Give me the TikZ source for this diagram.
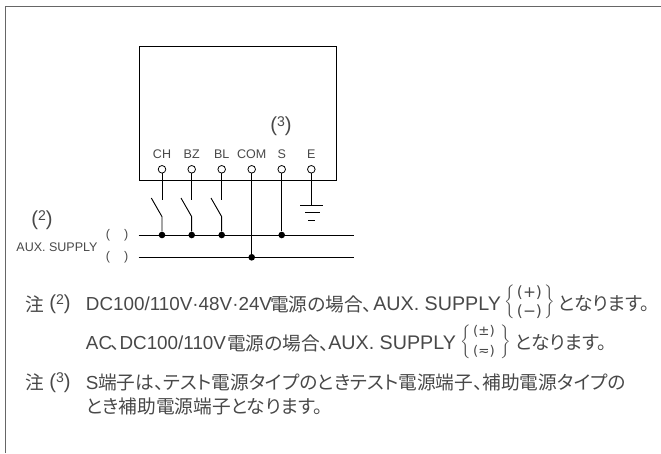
\documentclass[tikz,border=0pt]{standalone}
\usepackage{fontspec}
\usepackage{amsmath}
\setmainfont{Liberation Sans}
\newfontfamily\cjk[RawFeature=+palt]{Noto Sans CJK JP}
\newfontfamily\symfam{DejaVu Sans}
\usetikzlibrary{positioning}
\definecolor{inkgray}{HTML}{484848}
\newcommand{\bigtxt}{\fontsize{13.4}{15}\selectfont}
\newcommand{\auxtxt}{\fontsize{14}{15}\selectfont}
\newcommand{\jptxt}{\cjk\fontsize{13.3}{15}\selectfont}
\newcommand{\midtxt}{\fontsize{8.9}{10}\selectfont}
\newcommand{\refnum}[1]{\fontsize{14.4}{15}\selectfont(\raisebox{3.6pt}{\fontsize{10}{10}\selectfont #1})}
\tikzset{
	wire/.style={draw=black, line width=0.65pt},
	term/.style={circle, draw=black, fill=white, line width=0.55pt, inner sep=0pt, minimum size=5.4pt},
	dot/.style={circle, fill=black, inner sep=0pt, minimum size=4.7pt},
	tag/.style={text=inkgray, inner sep=0pt, font=\midtxt},
	note/.style={text=inkgray, inner sep=0pt, anchor=west, font=\bigtxt},
	jpnote/.style={note, font=\jptxt},
	brace/.style={text=inkgray, inner sep=0pt},
}
\begin{document}
\begin{tikzpicture}[x=0.025cm, y=-0.025cm]
	% Frame, page:
	\useasboundingbox (0, 0) rectangle (661, 453);
	\coordinate (FA) at (5.5, 453);
	\coordinate (FB) at (5.5, 6.5);
	\coordinate (FC) at (661, 6.5);
	\draw[draw=black!60, line width=0.9pt] (FA) -- (FB) -- (FC);
	% Unit and terminals:
	\node[wire, rectangle, minimum width=197*0.025cm, minimum height=133.5*0.025cm, anchor=north west, inner sep=0pt](UNIT) at (138.5, 46.5){};
	\foreach \name/\xpos in {CH/162, BZ/191.7, BL/221.7, COM/251.7, S/281.7, E/311.3}{
		\node[term](T\name) at (\xpos, 169.3){};
		\node[tag](L\name) at (\xpos, 154){\name};
	}
	% Supply lines:
	\coordinate (PA) at (138.5, 235);
	\coordinate (PB) at (354, 235);
	\coordinate (NA) at (138.5, 257.3);
	\coordinate (NB) at (354, 257.3);
	\draw[wire] (PA) -- (PB);
	\draw[wire] (NA) -- (NB);
	\node[dot](DCH) at (162, 235){};
	\node[dot](DBZ) at (191.7, 235){};
	\node[dot](DBL) at (221.7, 235){};
	\node[dot](DS) at (281.7, 235){};
	\node[dot](DCOM) at (251.7, 257.3){};
	\draw[wire] (TCOM) -- (DCOM);
	\draw[wire] (TS) -- (DS);
	% Switches:
	\foreach \name/\xpos in {CH/162, BZ/191.7, BL/221.7}{
		\coordinate (SA\name) at (\xpos, 200);
		\coordinate (SB\name) at (\xpos-10.7, 198);
		\coordinate (SC\name) at (\xpos, 216.7);
		\draw[wire] (T\name) -- (SA\name);
		\draw[wire] (SB\name) -- (SC\name) -- (D\name);
	}
	% Ground:
	\coordinate (GA) at (311.3, 205);
	\coordinate (GB) at (300, 205);
	\coordinate (GC) at (323, 205);
	\coordinate (GD) at (305, 212.7);
	\coordinate (GE) at (320, 212.7);
	\coordinate (GF) at (308, 220);
	\coordinate (GG) at (315, 220);
	\draw[wire] (TE) -- (GA);
	\draw[wire] (GB) -- (GC);
	\draw[wire] (GD) -- (GE);
	\draw[wire] (GF) -- (GG);
	% Labels:
	\node[tag](N3) at (281, 126.5){\refnum{3}};
	\node[tag](N2) at (42, 220.5){\refnum{2}};
	\node[tag](AUX) at (57, 246.7){AUX. SUPPLY};
	\node[tag](PP) at (117, 235.5){(\hspace{10pt})};
	\node[tag](PN) at (117, 257.5){(\hspace{10pt})};
	% Notes:
	\node[jpnote](NOA) at (25, 304){注};
	\node[note](NOAN) at (49, 304){\refnum{2}};
	\node[note](TXA) at (85.7, 304){DC100/110V·48V·24V};
	\node[jpnote](TXAJ) at (270, 304){電源の場合、};
	\node[note, font=\auxtxt](TXAS) at (373, 304){AUX. SUPPLY};
	\node[brace](BRAL) at (510, 301.5){$\bigg\{$};
	\node[tag, font=\symfam\fontsize{11}{12}\selectfont](BRAP) at (529.5, 292.7){(+)};
	\node[tag, font=\symfam\fontsize{11}{12}\selectfont](BRAM) at (529.5, 312){(−)};
	\node[brace](BRAR) at (549.5, 301.5){$\bigg\}$};
	\node[jpnote](TXB) at (558, 304){となります。};
	\node[note](TXC) at (85.7, 343){AC\kern-1.4pt{\jptxt 、}DC100/110V};
	\node[jpnote](TXCJ) at (227, 343){電源の場合、};
	\node[note, font=\auxtxt](TXCS) at (328, 343){AUX. SUPPLY};
	\node[brace](BRBL) at (466, 341.5){$\bigg\{$};
	\node[tag, font=\symfam\fontsize{9.5}{10}\selectfont](BRBP) at (484, 331.7){(±)};
	\node[tag, font=\symfam\fontsize{9.5}{10}\selectfont](BRBM) at (484, 351.7){(≂)};
	\node[brace](BRBR) at (506, 341.5){$\bigg\}$};
	\node[jpnote](TXD) at (515, 343){となります。};
	\node[jpnote](NOB) at (25, 382.7){注};
	\node[note](NOBN) at (49, 382.7){\refnum{3}};
	\node[note](TXE) at (85.7, 382.7){S};
	\node[jpnote](TXEJ) at (98, 382.7){端子は、テスト電源タイプのときテスト電源端子、補助電源タイプの};
	\node[jpnote](TXF) at (85.7, 406.7){とき補助電源端子となります。};
\end{tikzpicture}
\end{document}
